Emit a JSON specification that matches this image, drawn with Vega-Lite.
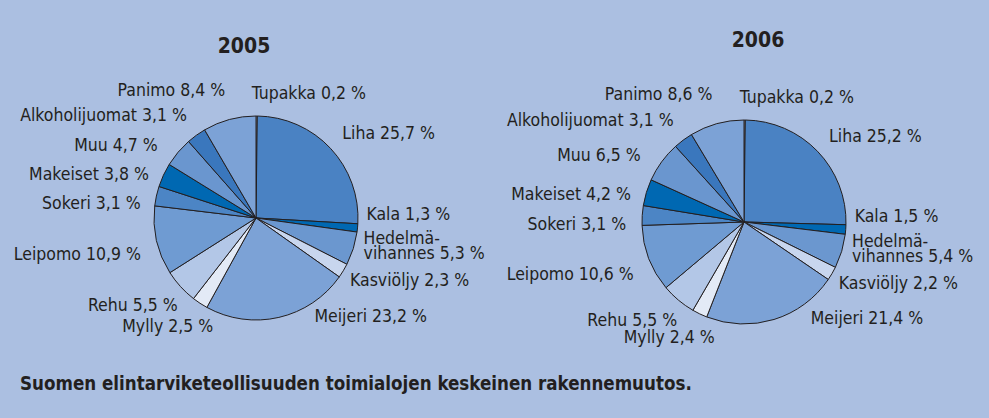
{
  "$schema": "https://vega.github.io/schema/vega-lite/v6.json",
  "background": "#abbfe1",
  "padding": {"left": 13, "top": 30, "right": 30, "bottom": 30},
  "config": {"view": {"stroke": null}, "font": "DejaVu Sans Condensed"},
  "title": {
    "text": "Suomen elintarviketeollisuuden toimialojen keskeinen rakennemuutos.",
    "orient": "bottom", "anchor": "start", "frame": "group",
    "font": "DejaVu Sans Condensed", "fontSize": 18.6, "fontWeight": "bold", "color": "#231f20",
    "offset": 2, "dx": -1
  },
  "data": {"values": [
    {"year": 2005, "sector": "Tupakka", "value": 0.2},
    {"year": 2005, "sector": "Liha", "value": 25.7},
    {"year": 2005, "sector": "Kala", "value": 1.3},
    {"year": 2005, "sector": "Hedelmä-vihannes", "value": 5.3},
    {"year": 2005, "sector": "Kasviöljy", "value": 2.3},
    {"year": 2005, "sector": "Meijeri", "value": 23.2},
    {"year": 2005, "sector": "Mylly", "value": 2.5},
    {"year": 2005, "sector": "Rehu", "value": 5.5},
    {"year": 2005, "sector": "Leipomo", "value": 10.9},
    {"year": 2005, "sector": "Sokeri", "value": 3.1},
    {"year": 2005, "sector": "Makeiset", "value": 3.8},
    {"year": 2005, "sector": "Muu", "value": 4.7},
    {"year": 2005, "sector": "Alkoholijuomat", "value": 3.1},
    {"year": 2005, "sector": "Panimo", "value": 8.4},
    {"year": 2006, "sector": "Tupakka", "value": 0.2},
    {"year": 2006, "sector": "Liha", "value": 25.2},
    {"year": 2006, "sector": "Kala", "value": 1.5},
    {"year": 2006, "sector": "Hedelmä-vihannes", "value": 5.4},
    {"year": 2006, "sector": "Kasviöljy", "value": 2.2},
    {"year": 2006, "sector": "Meijeri", "value": 21.4},
    {"year": 2006, "sector": "Mylly", "value": 2.4},
    {"year": 2006, "sector": "Rehu", "value": 5.5},
    {"year": 2006, "sector": "Leipomo", "value": 10.6},
    {"year": 2006, "sector": "Sokeri", "value": 3.1},
    {"year": 2006, "sector": "Makeiset", "value": 4.2},
    {"year": 2006, "sector": "Muu", "value": 6.5},
    {"year": 2006, "sector": "Alkoholijuomat", "value": 3.1},
    {"year": 2006, "sector": "Panimo", "value": 8.6}
  ]},
  "spacing": 18,
  "bounds": "flush",
  "resolve": {"scale": {"theta": "independent", "color": "shared"}},
  "hconcat": [
    {
      "width": 470, "height": 294,
      "title": {"text": "2005", "anchor": "middle", "font": "DejaVu Sans Condensed", "fontSize": 21, "fontWeight": "bold", "color": "#231f20", "offset": 14, "dx": -12},
      "transform": [
        {"filter": "datum.year == 2005"},
        {"window": [{"op": "row_number", "as": "i"}]},
        {"calculate": "replace(datum.sector, 'Hedelmä-', 'Hedelmä-\\n') + ' ' + replace(format(datum.value, '.1f'), '.', ',') + ' %'", "as": "label"}
      ],
      "encoding": {
        "theta": {"field": "value", "type": "quantitative", "stack": true},
        "order": {"field": "i", "type": "quantitative"}
      },
      "layer": [
        {
          "mark": {"type": "arc", "outerRadius": 102, "stroke": "#231f20", "strokeWidth": 1},
          "encoding": {
            "color": {"field": "sector", "type": "nominal", "legend": null,
              "scale": {
                "domain": ["Tupakka","Liha","Kala","Hedelmä-vihannes","Kasviöljy","Meijeri","Mylly","Rehu","Leipomo","Sokeri","Makeiset","Muu","Alkoholijuomat","Panimo"],
                "range": ["#ffffff","#4a82c3","#0068b2","#6b97cf","#c8d6ee","#7ca2d6","#e3eaf6","#b3c7e7","#6f9bd2","#4c85c5","#0068b2","#6a96cf","#3a77bd","#7ca2d6"]
              }}
          }
        },
        {
          "mark": {"type": "text", "radius": 118, "fontSize": 17.5, "color": "#231f20", "baseline": "middle", "lineBreak": "\n", "lineHeight": 15,
            "dx": {"expr": "datum.sector=='Meijeri'?32:datum.sector=='Mylly'?22:datum.sector=='Rehu'?9:datum.sector=='Muu'?-8:(datum.sector=='Kala'||datum.sector=='Kasviöljy')?-7:(datum.sector=='Tupakka'||datum.sector=='Hedelmä-vihannes')?-5:0"},
            "dy": {"expr": "datum.sector=='Meijeri'?-16:datum.sector=='Panimo'?-13:datum.sector=='Kala'?-14:datum.sector=='Hedelmä-vihannes'?-14:datum.sector=='Kasviöljy'?2:(datum.sector=='Tupakka'||datum.sector=='Alkoholijuomat')?-6:datum.sector=='Liha'?-3:datum.sector=='Mylly'?10:(datum.sector=='Leipomo'||datum.sector=='Sokeri')?11:datum.sector=='Rehu'?9:datum.sector=='Makeiset'?7:datum.sector=='Muu'?4:0"},
            "align": {"expr": "(datum.value_start + datum.value_end) / 2 > 50 ? 'right' : 'left'"}},
          "encoding": {"text": {"field": "label", "type": "nominal"}}
        }
      ]
    },
    {
      "width": 470, "height": 302,
      "title": {"text": "2006", "anchor": "middle", "font": "DejaVu Sans Condensed", "fontSize": 21, "fontWeight": "bold", "color": "#231f20", "offset": 20, "dx": 14},
      "transform": [
        {"filter": "datum.year == 2006"},
        {"window": [{"op": "row_number", "as": "i"}]},
        {"calculate": "replace(datum.sector, 'Hedelmä-', 'Hedelmä-\\n') + ' ' + replace(format(datum.value, '.1f'), '.', ',') + ' %'", "as": "label"}
      ],
      "encoding": {
        "theta": {"field": "value", "type": "quantitative", "stack": true},
        "order": {"field": "i", "type": "quantitative"}
      },
      "layer": [
        {
          "mark": {"type": "arc", "outerRadius": 102, "stroke": "#231f20", "strokeWidth": 1},
          "encoding": {
            "color": {"field": "sector", "type": "nominal", "legend": null}
          }
        },
        {
          "mark": {"type": "text", "radius": 118, "fontSize": 17.5, "color": "#231f20", "baseline": "middle", "lineBreak": "\n", "lineHeight": 15,
            "dx": {"expr": "datum.sector=='Meijeri'?32:datum.sector=='Mylly'?22:datum.sector=='Rehu'?9:datum.sector=='Muu'?-8:(datum.sector=='Kala'||datum.sector=='Kasviöljy')?-7:(datum.sector=='Tupakka'||datum.sector=='Hedelmä-vihannes')?-5:0"},
            "dy": {"expr": "datum.sector=='Meijeri'?-16:datum.sector=='Panimo'?-13:datum.sector=='Kala'?-14:datum.sector=='Hedelmä-vihannes'?-14:datum.sector=='Kasviöljy'?2:(datum.sector=='Tupakka'||datum.sector=='Alkoholijuomat')?-6:datum.sector=='Liha'?-3:datum.sector=='Mylly'?10:(datum.sector=='Leipomo'||datum.sector=='Sokeri')?11:datum.sector=='Rehu'?9:datum.sector=='Makeiset'?7:datum.sector=='Muu'?4:0"},
            "align": {"expr": "(datum.value_start + datum.value_end) / 2 > 50 ? 'right' : 'left'"}},
          "encoding": {"text": {"field": "label", "type": "nominal"}}
        }
      ]
    }
  ]
}
